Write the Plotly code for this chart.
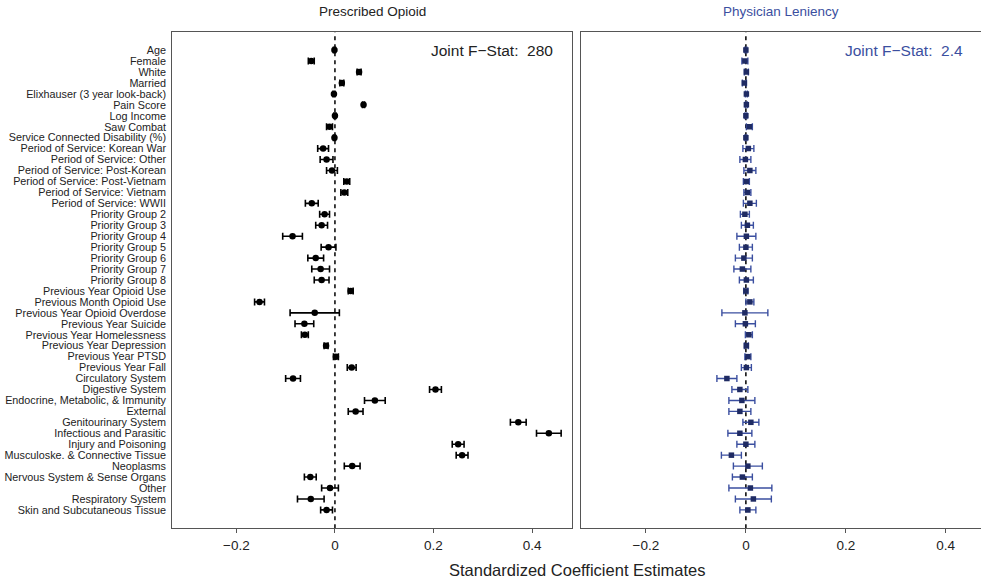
import plotly.graph_objects as go

# Covariate labels, top to bottom
labels = [
    "Age", "Female", "White", "Married", "Elixhauser (3 year look-back)",
    "Pain Score", "Log Income", "Saw Combat", "Service Connected Disability (%)",
    "Period of Service: Korean War", "Period of Service: Other",
    "Period of Service: Post-Korean", "Period of Service: Post-Vietnam",
    "Period of Service: Vietnam", "Period of Service: WWII",
    "Priority Group 2", "Priority Group 3", "Priority Group 4", "Priority Group 5",
    "Priority Group 6", "Priority Group 7", "Priority Group 8",
    "Previous Year Opioid Use", "Previous Month Opioid Use",
    "Previous Year Opioid Overdose", "Previous Year Suicide",
    "Previous Year Homelessness", "Previous Year Depression",
    "Previous Year PTSD", "Previous Year Fall",
    "Circulatory System", "Digestive System", "Endocrine, Metabolic, & Immunity",
    "External", "Genitourinary System", "Infectious and Parasitic",
    "Injury and Poisoning", "Musculoske. & Connective Tissue", "Neoplasms",
    "Nervous System & Sense Organs", "Other", "Respiratory System",
    "Skin and Subcutaneous Tissue",
]

# Prescribed opioid: standardized coefficients and 95% CI half-widths
opioid_est = [
    -0.001, -0.048, 0.049, 0.014, -0.002,
    0.058, 0.000, -0.011, -0.001,
    -0.024, -0.017, -0.006, 0.024, 0.019, -0.047,
    -0.021, -0.027, -0.086, -0.013, -0.039, -0.029, -0.027,
    0.032, -0.153, -0.041, -0.062, -0.061, -0.018, 0.002, 0.034,
    -0.085, 0.204, 0.081, 0.042, 0.372, 0.434, 0.250, 0.258, 0.035,
    -0.050, -0.010, -0.049, -0.017,
]
opioid_ci = [
    0.002, 0.006, 0.004, 0.004, 0.002,
    0.002, 0.002, 0.006, 0.002,
    0.011, 0.013, 0.011, 0.006, 0.007, 0.013,
    0.010, 0.012, 0.020, 0.015, 0.016, 0.018, 0.015,
    0.005, 0.010, 0.050, 0.019, 0.007, 0.004, 0.005, 0.009,
    0.015, 0.012, 0.021, 0.015, 0.016, 0.025, 0.012, 0.012, 0.016,
    0.012, 0.017, 0.027, 0.012,
]

# Physician leniency: standardized coefficients and 95% CI half-widths
lenient_est = [
    0.000, -0.002, 0.001, -0.003, 0.001,
    0.001, 0.000, 0.007, 0.000,
    0.005, -0.001, 0.008, 0.001, 0.003, 0.008,
    -0.002, 0.003, 0.001, 0.000, -0.004, -0.007, 0.001,
    0.000, 0.008, -0.002, -0.001, 0.006, 0.001, 0.004, 0.001,
    -0.038, -0.012, -0.008, -0.012, 0.010, -0.012, 0.000, -0.029, 0.004,
    -0.007, 0.009, 0.015, 0.004,
]
lenient_ci = [
    0.002, 0.006, 0.004, 0.004, 0.002,
    0.002, 0.002, 0.006, 0.002,
    0.011, 0.011, 0.012, 0.006, 0.007, 0.013,
    0.009, 0.012, 0.019, 0.013, 0.017, 0.017, 0.014,
    0.004, 0.008, 0.046, 0.020, 0.007, 0.004, 0.006, 0.010,
    0.020, 0.016, 0.026, 0.022, 0.016, 0.024, 0.018, 0.020, 0.029,
    0.020, 0.043, 0.036, 0.016,
]

x_ticks = [-0.2, 0, 0.2, 0.4]
x_tick_text = ["\u22120.2", "0", "0.2", "0.4"]
panel_titles = ["Prescribed Opioid", "Physician Leniency"]
f_stats = ["280", "2.4"]

n = len(labels)
ypos = list(range(n, 0, -1))  # first label on top

W, H = 981, 579
FONT = "Liberation Sans, Arial, sans-serif"
BLUE = "#3b4fa0"
NAVY = "#1f2b63"

def px(x):
    return x / W

def py(y):
    return 1 - y / H

fig = go.Figure()

fig.add_trace(go.Scatter(
    x=opioid_est, y=ypos, mode="markers",
    marker=dict(symbol="circle", size=6.5, color="black"),
    error_x=dict(type="data", array=opioid_ci, color="black", thickness=1.6, width=3.5),
    xaxis="x", yaxis="y", showlegend=False,
))
fig.add_trace(go.Scatter(
    x=lenient_est, y=ypos, mode="markers",
    marker=dict(symbol="square", size=5.5, color=NAVY),
    error_x=dict(type="data", array=lenient_ci, color=BLUE, thickness=1.4, width=3.5),
    xaxis="x2", yaxis="y2", showlegend=False,
))

yrange = [1 - 0.04 * (n - 1), n + 0.04 * (n - 1)]
xrange = [-0.33, 0.48]
# the right panel runs past the page edge, so its visible range stops short
xrange2 = [-0.33, 0.4706]

ydom = [py(528.3), py(31.7)]
common_x = dict(
    tickvals=x_ticks, ticktext=x_tick_text,
    showgrid=False, zeroline=False, showline=True, mirror=True,
    linecolor="#555555", linewidth=1.3, ticks="outside", ticklen=4,
    tickcolor="#555555", tickfont=dict(family=FONT, size=13.5, color="#222222"),
    automargin=False, fixedrange=True,
)
fig.update_layout(
    xaxis=dict(domain=[px(172.3), px(571.5)], range=xrange, anchor="y", **common_x),
    xaxis2=dict(domain=[px(581.0), 1.0], range=xrange2, anchor="y2", **common_x),
    yaxis=dict(
        domain=ydom, range=yrange, tickvals=ypos, ticktext=labels,
        showgrid=False, zeroline=False, showline=True, mirror=True,
        linecolor="#555555", linewidth=1.3, ticks="", ticklabelstandoff=3,
        tickfont=dict(family=FONT, size=10.8, color="#222222"),
        automargin=False, anchor="x",
    ),
    yaxis2=dict(
        domain=ydom, range=yrange, showticklabels=False,
        showgrid=False, zeroline=False, showline=True, mirror=True,
        linecolor="#555555", linewidth=1.3, ticks="",
        automargin=False, anchor="x2",
    ),
    width=W, height=H,
    margin=dict(l=0, r=0, t=0, b=0, pad=0),
    paper_bgcolor="white", plot_bgcolor="white",
)

# dashed zero reference lines
for xr, yr in (("x", "y domain"), ("x2", "y2 domain")):
    fig.add_shape(type="line", xref=xr, yref=yr, x0=0, x1=0, y0=0, y1=1,
                  line=dict(color="black", width=1.5, dash="4px,4px"), layer="below")

annotations = [
    dict(text=panel_titles[0], x=px(372.5), y=py(11.7), font=dict(size=13.5, color="#222222")),
    dict(text=panel_titles[1], x=px(780.5), y=py(11.7), font=dict(size=13.5, color=BLUE)),
    dict(text="Joint F\u2212Stat:\u00a0 " + f_stats[0], x=px(555), y=py(50.5), xanchor="right",
         font=dict(size=15.5, color="#222222")),
    dict(text="Joint F\u2212Stat:\u00a0 " + f_stats[1], x=px(965), y=py(50.5), xanchor="right",
         font=dict(size=15.5, color=BLUE)),
    dict(text="Standardized Coefficient Estimates", x=px(577.5), y=py(569.5),
         font=dict(size=16.5, color="#222222")),
]
for a in annotations:
    a.setdefault("xanchor", "center")
    a["font"]["family"] = FONT
    fig.add_annotation(xref="paper", yref="paper", yanchor="middle", showarrow=False, **a)

fig.write_html("out.html")
